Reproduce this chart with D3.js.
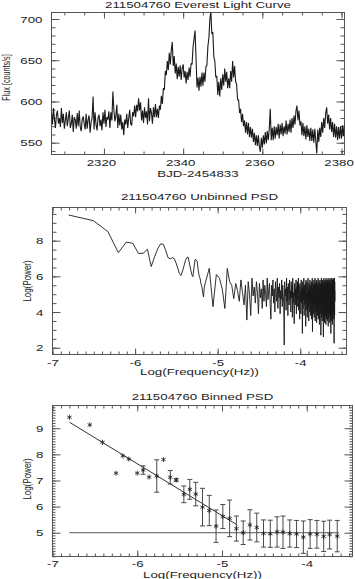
<!DOCTYPE html>
<html>
<head>
<meta charset="utf-8">
<script src="https://cdn.jsdelivr.net/npm/d3@7"></script>
<style>
  body { margin: 0; background: #fff; }
  svg text { font-family: "Liberation Sans", Arial, sans-serif; fill: #222; }
</style>
</head>
<body>
<svg id="chart" width="355" height="579"></svg>
<script>
// ---- light curve (Everest), 0.25 d steps starting at lcStart
const lcStart = 2306.75;
const lcStep = 0.25;
const lcFlux = [
  587,
  572,592,578,568, 584,589,573,580, 569,592,574,585, 567,577,587,570,
  580,589,568,573, 584,563,581,578, 567,586,570,589, 569,564,578,582,
  573,566,585,567, 578,583,562,575, 580,606,566,587, 572,565,580,584,
  570,578,565,587, 573,590,569,581, 578,588,568,587, 577,612,590,576,
  582,596,568,585, 571,584,566,575, 559,578,572,585, 568,580,590,573,
  571,587,582,595, 581,596,588,604, 589,599,577,589, 574,593,580,588,
  572,604,576,592, 586,573,593,581, 597,581,591,580, 595,590,607,597,
  616,614,637,632, 649,638,659,645, 662,672,643,655, 634,646,627,642,
  630,644,626,640, 645,629,637,622, 636,626,641,630, 646,645,666,676,
  686,653,617,629, 613,630,618,635, 619,635,624,642, 644,667,677,700,
  709,682,684,654, 649,629,631,608, 624,606,628,614, 633,619,640,624,
  636,616,628,616, 637,624,649,629, 643,624,621,602, 602,586,591,575,
  585,570,577,562, 575,560,574,557, 569,556,567,551, 562,547,559,546,
  559,545,539,556, 544,559,548,563, 549,564,553,567, 591,553,568,553,
  570,555,569,559, 573,555,572,560, 574,558,570,561, 577,560,573,563,
  578,562,580,568, 583,572,589,595, 577,589,571,576, 559,574,558,570,
  554,571,557,567, 552,568,552,566, 550,567,552,537, 566,551,568,557,
  575,562,580,568, 586,593,573,584, 566,580,563,575, 557,573,556,570,
  553,569,555,570, 555,571,558,572
];
const lcXTicks = [2320, 2340, 2360, 2380];
const lcYTicks = [550, 600, 650, 700];

// ---- unbinned PSD, frequency = k * psdF0
const psdF0 = 1.567e-7;
const psdLowPower = [   // k = 1..44
  9.44, 9.12, 8.50, 7.33, 7.92, 7.85, 7.29, 7.29, 7.52, 6.55,
  7.10, 7.55, 7.82, 7.80, 7.45, 7.05, 6.98, 7.05, 7.00, 6.75,
  6.45, 6.15, 6.05, 6.30, 6.60, 6.90, 7.05, 7.08, 6.75, 6.40,
  6.10, 5.98, 6.50, 6.95, 6.92, 6.85, 6.40, 6.05, 5.90, 5.60,
  5.45, 5.10, 4.85, 5.40
];
const psdHighStartK = 45, psdHighStepK = 5.5;
const psdHighPower = [
  5.6, 6.45, 4.3, 6.1, 5.9, 5.3, 4.2, 6.45, 5.7, 5.5,
  4.75, 5.6, 5.2, 4.6, 5.8, 5.1, 4.4, 5.5, 3.55, 5.7,
  5.0, 3.8, 5.9, 4.9, 5.4, 4.5, 5.7, 5.1, 3.9, 5.6,
  4.8, 5.3, 4.2, 5.8, 4.6, 5.5, 5.0, 4.3, 5.9, 4.7,
  5.2, 5.6, 4.4, 3.6, 5.5, 4.9, 5.8, 4.5, 5.3, 4.0,
  5.7, 5.1, 4.6, 5.9, 4.2, 5.4, 4.8, 5.6, 3.9, 5.2,
  4.7, 5.8, 4.3, 5.5, 5.0, 4.5, 2.15, 5.7, 4.9, 5.3,
  4.1, 5.9, 4.6, 5.4, 3.8, 5.6, 5.0, 4.4, 5.8, 4.7,
  5.2, 4.0, 5.7, 4.8, 5.5, 3.7, 5.9, 4.5, 5.1, 4.2,
  3.35, 5.6, 4.9, 5.3, 4.4, 5.8, 3.9, 5.4, 4.7, 5.7,
  4.3, 5.0, 5.9, 4.1, 5.5, 4.8, 3.6, 5.6, 4.6, 5.2,
  3.9, 5.8, 4.5, 5.4, 4.9, 2.8, 5.7, 4.2, 5.3, 4.7,
  5.9, 3.8, 5.5, 4.4, 5.1, 4.8, 5.6, 3.2, 5.8, 4.6,
  5.0, 4.1, 5.7, 3.7, 5.4, 4.9, 5.9, 4.3, 5.2, 3.5,
  5.6, 4.7, 5.3, 4.0, 5.8, 4.5, 5.5, 3.8, 5.0, 4.9,
  5.7, 3.6, 5.4, 4.4, 5.9, 2.9, 5.1, 4.6, 5.6, 3.9,
  5.3, 4.8, 5.8, 3.7, 5.5, 4.2, 5.0, 5.9, 3.5, 5.6,
  4.5, 5.2, 4.0, 5.7, 4.7, 3.4, 5.8, 4.3, 5.4, 4.9,
  3.8, 5.6, 4.6, 5.9, 3.6, 5.1, 4.4, 5.5, 4.1, 5.7,
  3.3, 5.3, 4.8, 5.8, 3.9, 5.0, 4.5, 5.6, 2.7, 5.4,
  4.2, 5.9, 3.7, 5.2, 4.7, 5.7, 3.5, 5.5, 4.4, 5.8,
  3.9, 5.1, 4.6, 2.6, 5.6, 4.3, 5.9, 3.6, 5.3, 4.8,
  5.7, 3.4, 5.0, 4.5, 5.8, 3.8, 5.4, 4.1, 5.6, 3.3,
  5.9, 4.7, 5.2, 3.6, 5.7, 4.4, 5.5, 3.9, 5.8, 4.2,
  5.1, 3.5, 5.6, 4.6, 5.9, 3.2, 5.3, 4.8, 5.7, 3.7,
  5.4, 4.3, 5.8, 3.9, 5.0, 4.5, 5.6, 3.4, 5.9, 4.1,
  5.5, 3.6, 5.2, 4.7, 2.8, 5.7, 4.0, 5.8, 3.8, 5.4,
  4.4, 5.9, 3.5, 5.1, 4.6, 5.6, 3.3, 5.8, 4.2, 5.3,
  3.7, 5.7, 4.5, 5.9, 3.9, 5.4, 4.0, 5.6, 3.6, 5.8,
  2.25, 5.5, 4.3, 5.9, 3.8, 5.2, 4.6, 5.7
];
const psd2YTicks = [2, 4, 6, 8];
const freqTicks = [-7, -6, -5, -4];

// ---- binned PSD
const binLogF = [-6.80, -6.56, -6.41, -6.25, -6.17, -6.10, -6.00, -5.93, -5.86, -5.77,
  -5.69, -5.61, -5.54, -5.45, -5.38, -5.31, -5.23, -5.15, -5.07, -4.99,
  -4.91, -4.83, -4.75, -4.67, -4.59, -4.51, -4.43, -4.35, -4.28, -4.20,
  -4.12, -4.04, -3.96, -3.88, -3.80, -3.73, -3.64];
const binLogP = [9.42, 9.13, 8.46, 7.28, 7.94, 7.82, 7.28, 7.40, 7.13, 7.17,
  7.80, 7.12, 7.02, 6.47, 6.66, 6.48, 5.98, 5.85, 5.25, 5.62,
  5.55, 5.16, 5.00, 5.30, 5.20, 4.97, 4.96, 5.03, 5.02, 4.97,
  4.95, 4.83, 4.95, 4.94, 4.86, 4.93, 4.87];
const binErr = [0, 0, 0, 0, 0, 0, 0, 0.16, 0, 0.62,
  0, 0.26, 0.05, 0.32, 0.38, 0.45, 0.72, 0.58, 0.62, 0.46,
  0.70, 0.48, 0.45, 0.58, 0.55, 0.52, 0.52, 0.58, 0.62, 0.52,
  0.52, 0.62, 0.55, 0.53, 0.58, 0.55, 0.60];
const fitLogF = [-6.80, -4.82];
const fitLogP = [9.23, 5.30];
const noiseLogF = [-6.80, -3.62];
const noiseLevel = 5.0;
const psd3YTicks = [5, 6, 7, 8, 9];

const ink = "#1a1a1a", frameInk = "#555";
const sx = 1.4; // wide plotting font

const svg = d3.select("#chart");
svg.append("rect").attr("width", 355).attr("height", 579).attr("fill", "#fff");

function txt(g, x, y, s, o = {}) {
  return g.append("text")
    .attr("transform", `translate(${x},${y})` + (o.rot ? ` rotate(${o.rot})` : "") + ` scale(${o.sx || sx},1)`)
    .attr("text-anchor", "middle")
    .attr("font-size", o.size || 9.5)
    .text(s);
}

let clipId = 0;
function panel(box, xDom, yDom, o) {
  const x = d3.scaleLinear().domain(xDom).range([box.left, box.right]);
  const y = d3.scaleLinear().domain(yDom).range([box.bottom, box.top]);
  const g = svg.append("g");
  const fmt = d => String(d);
  const add = (axis, tx, ty) => g.append("g").attr("transform", `translate(${tx},${ty})`).call(axis);

  add(d3.axisBottom(x).tickValues(o.xMinor).tickSize(-3).tickFormat(""), 0, box.bottom);
  const xb = add(d3.axisBottom(x).tickValues(o.xTicks).tickSize(-6).tickPadding(o.xPad || 5).tickFormat(fmt), 0, box.bottom);
  add(d3.axisTop(x).tickValues(o.xMinor).tickSize(-3).tickFormat(""), 0, box.top);
  add(d3.axisTop(x).tickValues(o.xTicks).tickSize(-6).tickFormat(""), 0, box.top);
  add(d3.axisLeft(y).tickValues(o.yMinor).tickSize(-o.yMinorLen).tickFormat(""), box.left, 0);
  const yl = add(d3.axisLeft(y).tickValues(o.yTicks).tickSize(-8).tickPadding(9).tickFormat(fmt), box.left, 0);
  add(d3.axisRight(y).tickValues(o.yMinor).tickSize(-o.yMinorLen).tickFormat(""), box.right, 0);
  add(d3.axisRight(y).tickValues(o.yTicks).tickSize(-8).tickFormat(""), box.right, 0);

  g.selectAll(".domain").remove();
  g.selectAll(".tick line").attr("stroke", frameInk);
  xb.attr("font-size", 9.5).selectAll("text")
    .attr("x", (o.xLabelDx || 0) / sx)
    .attr("transform", `scale(${sx},1)`);
  yl.attr("font-size", 9.5).selectAll("text").attr("x", -9 / sx).attr("transform", `scale(${sx},1)`);

  g.append("rect")
    .attr("x", box.left).attr("y", box.top)
    .attr("width", box.right - box.left).attr("height", box.bottom - box.top)
    .attr("fill", "none").attr("stroke", frameInk);

  const id = "clip" + (clipId++);
  svg.append("clipPath").attr("id", id).append("rect")
    .attr("x", box.left).attr("y", box.top)
    .attr("width", box.right - box.left).attr("height", box.bottom - box.top);
  const plot = svg.append("g").attr("clip-path", `url(#${id})`);

  const cx = (box.left + box.right) / 2;
  txt(g, cx, o.titleY, o.title);
  txt(g, cx, o.xLabelY, o.xLabel);
  txt(g, o.yLabelX, (box.top + box.bottom) / 2 + o.yLabelShift, o.yLabel, { rot: -90, sx: o.yLabelSx, size: 10 });
  return { x, y, plot };
}

const tenths = d3.range(-70, -34).map(d => d / 10);

// ---------- panel 1: light curve
const p1 = panel({ left: 51.5, right: 344.5, top: 12.5, bottom: 154.5 },
  [2306.75, 2380.75], [535.7, 707.9], {
    xTicks: lcXTicks, xMinor: d3.range(2310, 2381, 5), xLabelDx: -3,
    yTicks: lcYTicks, yMinor: d3.range(540, 708, 10), yMinorLen: 4,
    title: "211504760 Everest Light Curve", titleY: 7.5,
    xLabel: "BJD-2454833", xLabelY: 177,
    yLabel: "Flux [counts/s]", yLabelX: 10, yLabelShift: -6, yLabelSx: 0.72
  });
p1.plot.append("path")
  .datum(lcFlux)
  .attr("fill", "none").attr("stroke", ink).attr("stroke-width", 1.1)
  .attr("stroke-linejoin", "bevel")
  .attr("d", d3.line().x((d, i) => p1.x(lcStart + i * lcStep)).y(d => p1.y(d)));

// ---------- panel 2: unbinned PSD
const p2 = panel({ left: 52.5, right: 346.5, top: 207.5, bottom: 354.5 },
  [-7, -3.44], [1.62, 9.86], {
    xTicks: freqTicks, xMinor: tenths,
    yTicks: psd2YTicks, yMinor: d3.range(2, 9.9, 0.5), yMinorLen: 4,
    title: "211504760 Unbinned PSD", titleY: 200,
    xLabel: "Log(Frequency(Hz))", xLabelY: 375,
    yLabel: "Log(Power)", yLabelX: 30.5, yLabelShift: 0, yLabelSx: 0.8
  });
const psdPoints = psdLowPower.map((p, i) => [Math.log10((i + 1) * psdF0), p])
  .concat(psdHighPower.map((p, i) => [Math.log10((psdHighStartK + i * psdHighStepK) * psdF0), p]));
p2.plot.append("path")
  .datum(psdPoints)
  .attr("fill", "none").attr("stroke", ink).attr("stroke-width", 0.9)
  .attr("d", d3.line().x(d => p2.x(d[0])).y(d => p2.y(d[1])));

// ---------- panel 3: binned PSD
const p3 = panel({ left: 52.5, right: 352.5, top: 405.5, bottom: 556.5 },
  [-7, -3.46], [4.09, 9.87], {
    xTicks: freqTicks, xMinor: tenths, xPad: 3.5,
    yTicks: psd3YTicks, yMinor: d3.range(41, 99).map(d => d / 10), yMinorLen: 3,
    title: "211504760 Binned PSD", titleY: 400,
    xLabel: "Log(Frequency(Hz))", xLabelY: 577.5,
    yLabel: "Log(Power)", yLabelX: 30.5, yLabelShift: -2, yLabelSx: 0.8
  });

// white-noise level and power-law fit
p3.plot.append("line")
  .attr("x1", p3.x(noiseLogF[0])).attr("x2", p3.x(noiseLogF[1]))
  .attr("y1", p3.y(noiseLevel)).attr("y2", p3.y(noiseLevel))
  .attr("stroke", "#444").attr("stroke-width", 0.9);
p3.plot.append("path")
  .datum(fitLogF.map((f, i) => [f, fitLogP[i]]))
  .attr("fill", "none").attr("stroke", ink).attr("stroke-width", 0.9)
  .attr("d", d3.line().x(d => p3.x(d[0])).y(d => p3.y(d[1])));

// error bars
const bars = binLogF.map((f, i) => ({ f, p: binLogP[i], e: binErr[i] })).filter(d => d.e > 0);
const eb = p3.plot.append("g").attr("stroke", "#4a4a4a").attr("stroke-width", 1);
eb.selectAll("line.v").data(bars).join("line")
  .attr("x1", d => p3.x(d.f)).attr("x2", d => p3.x(d.f))
  .attr("y1", d => p3.y(d.p - d.e)).attr("y2", d => p3.y(d.p + d.e));
eb.selectAll("line.lo").data(bars).join("line")
  .attr("x1", d => p3.x(d.f) - 2.5).attr("x2", d => p3.x(d.f) + 2.5)
  .attr("y1", d => p3.y(d.p - d.e)).attr("y2", d => p3.y(d.p - d.e));
eb.selectAll("line.hi").data(bars).join("line")
  .attr("x1", d => p3.x(d.f) - 2.5).attr("x2", d => p3.x(d.f) + 2.5)
  .attr("y1", d => p3.y(d.p + d.e)).attr("y2", d => p3.y(d.p + d.e));

// asterisk markers
const star = d3.symbol().type(d3.symbolAsterisk || d3.symbolCross).size(18);
p3.plot.selectAll("path.star").data(binLogF).join("path")
  .attr("class", "star")
  .attr("transform", (d, i) => `translate(${p3.x(d)},${p3.y(binLogP[i])})`)
  .attr("d", star)
  .attr("fill", "none").attr("stroke", ink).attr("stroke-width", 0.8);
</script>
</body>
</html>
